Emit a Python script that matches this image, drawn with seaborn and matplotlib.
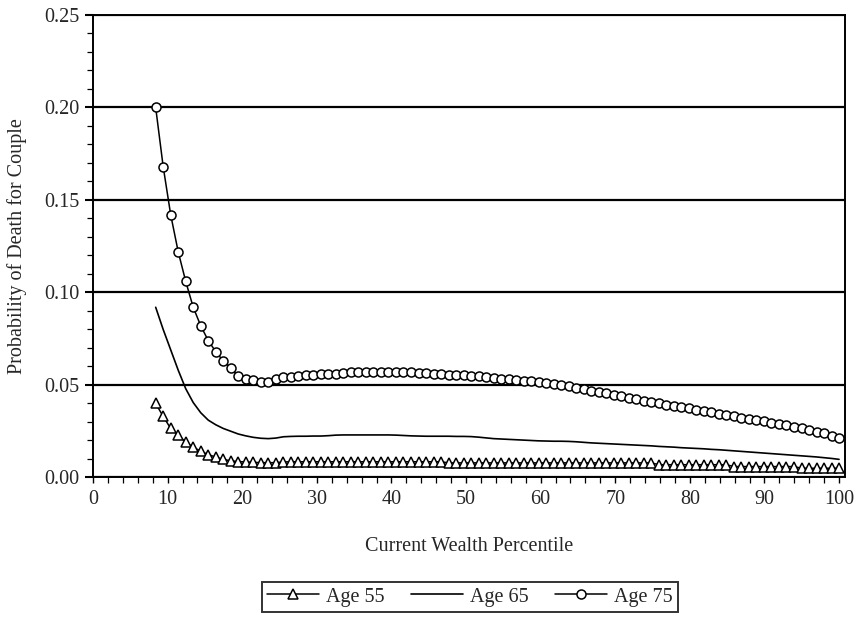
import numpy as np
import pandas as pd
import matplotlib
matplotlib.use("Agg")
import matplotlib.pyplot as plt
import seaborn as sns
from matplotlib.ticker import MultipleLocator, FormatStrFormatter

# ---------------- data ----------------
# wealth percentile grid (92 points from ~8.4 to 100)
percentile = np.linspace(8.4, 100.0, 92)

age55 = [0.0400, 0.0330, 0.0265, 0.0230, 0.0190, 0.0164, 0.0142, 0.0124, 0.0110, 0.0098,
         0.0090, 0.0086, 0.0084, 0.0082, 0.0080, 0.0080, 0.0080, 0.0084, 0.0085, 0.0085,
         0.0085, 0.0085, 0.0085, 0.0085, 0.0085, 0.0085, 0.0085, 0.0085, 0.0085, 0.0085,
         0.0085, 0.0085, 0.0085, 0.0085, 0.0085, 0.0085, 0.0085, 0.0085, 0.0085, 0.0079,
         0.0079, 0.0079, 0.0079, 0.0079, 0.0079, 0.0079, 0.0079, 0.0079, 0.0079, 0.0079,
         0.0079, 0.0079, 0.0079, 0.0079, 0.0079, 0.0079, 0.0079, 0.0079, 0.0079, 0.0079,
         0.0079, 0.0079, 0.0079, 0.0079, 0.0079, 0.0079, 0.0079, 0.0069, 0.0069, 0.0069,
         0.0069, 0.0069, 0.0069, 0.0069, 0.0069, 0.0069, 0.0069, 0.0059, 0.0059, 0.0059,
         0.0059, 0.0059, 0.0059, 0.0059, 0.0059, 0.0059, 0.0050, 0.0050, 0.0050, 0.0050,
         0.0050, 0.0050]

age65 = [0.0920, 0.0800, 0.0690, 0.0580, 0.0480, 0.0405, 0.0350, 0.0310, 0.0285, 0.0265,
         0.0250, 0.0235, 0.0225, 0.0217, 0.0212, 0.0210, 0.0213, 0.0220, 0.0222, 0.0223,
         0.0223, 0.0224, 0.0224, 0.0226, 0.0229, 0.0230, 0.0230, 0.0230, 0.0230, 0.0230,
         0.0230, 0.0230, 0.0229, 0.0227, 0.0225, 0.0224, 0.0223, 0.0223, 0.0223, 0.0223,
         0.0222, 0.0222, 0.0221, 0.0218, 0.0214, 0.0210, 0.0208, 0.0206, 0.0204, 0.0202,
         0.0200, 0.0198, 0.0197, 0.0196, 0.0196, 0.0195, 0.0193, 0.0190, 0.0187, 0.0185,
         0.0183, 0.0181, 0.0179, 0.0177, 0.0175, 0.0173, 0.0171, 0.0168, 0.0166, 0.0164,
         0.0161, 0.0159, 0.0157, 0.0155, 0.0152, 0.0150, 0.0147, 0.0144, 0.0141, 0.0138,
         0.0135, 0.0132, 0.0129, 0.0126, 0.0123, 0.0120, 0.0117, 0.0114, 0.0111, 0.0107,
         0.0103, 0.0098]

age75 = [0.2000, 0.1680, 0.1420, 0.1220, 0.1060, 0.0920, 0.0820, 0.0740, 0.0680, 0.0630,
         0.0590, 0.0550, 0.0530, 0.0525, 0.0515, 0.0515, 0.0533, 0.0545, 0.0545, 0.0548,
         0.0552, 0.0556, 0.0560, 0.0560, 0.0562, 0.0565, 0.0568, 0.0569, 0.0570, 0.0570,
         0.0570, 0.0570, 0.0570, 0.0570, 0.0569, 0.0567, 0.0565, 0.0562, 0.0560, 0.0556,
         0.0554, 0.0552, 0.0550, 0.0547, 0.0543, 0.0539, 0.0535, 0.0531, 0.0527, 0.0523,
         0.0519, 0.0515, 0.0510, 0.0505, 0.0500, 0.0494, 0.0486, 0.0478, 0.0470, 0.0463,
         0.0455, 0.0447, 0.0439, 0.0431, 0.0424, 0.0416, 0.0408, 0.0401, 0.0394, 0.0387,
         0.0380, 0.0373, 0.0366, 0.0359, 0.0352, 0.0345, 0.0338, 0.0331, 0.0324, 0.0317,
         0.0310, 0.0303, 0.0296, 0.0289, 0.0281, 0.0273, 0.0265, 0.0257, 0.0248, 0.0238,
         0.0226, 0.0215]

labels = ["Age 55", "Age 65", "Age 75"]
x_ticks = [0, 10, 20, 30, 40, 50, 60, 70, 80, 90, 100]
y_ticks = [0.00, 0.05, 0.10, 0.15, 0.20, 0.25]

# ---------------- style ----------------
sns.set_style("ticks")
plt.rcParams["font.family"] = ["Liberation Serif", "DejaVu Serif"]
plt.rcParams["font.size"] = 14.5

fig = plt.figure(figsize=(8.62, 6.24), dpi=100)
ax = fig.add_axes([0.1079, 0.2348, 0.9803 - 0.1079, 0.976 - 0.2348])

sns.lineplot(x=percentile, y=age55, ax=ax, color="black", lw=1.1,
             marker="^", markersize=6.8, markerfacecolor="white",
             markeredgecolor="black", markeredgewidth=1.1, label=labels[0])
sns.lineplot(x=percentile, y=age65, ax=ax, color="black", lw=1.2, label=labels[1])
sns.lineplot(x=percentile, y=age75, ax=ax, color="black", lw=1.1,
             marker="o", markersize=6.5, markerfacecolor="white",
             markeredgecolor="black", markeredgewidth=1.1, label=labels[2])

ax.set_xlim(0, 100.8)
ax.set_ylim(0, 0.25)
ax.set_xticks(x_ticks)
ax.set_yticks(y_ticks)
ax.xaxis.set_minor_locator(MultipleLocator(2))
ax.yaxis.set_minor_locator(MultipleLocator(0.01))
ax.yaxis.set_major_formatter(FormatStrFormatter("%.2f"))

ax.grid(axis="y", which="major", color="black", lw=1.6)
ax.set_axisbelow(True)
for s in ax.spines.values():
    s.set_visible(True)
    s.set_color("black")
    s.set_linewidth(1.4)

ax.tick_params(axis="y", which="major", direction="out", length=5.5, width=1.5,
               color="black", labelsize=14.5, pad=4)
ax.tick_params(axis="y", which="minor", direction="out", length=4, width=0.9, color="black")
ax.tick_params(axis="x", which="major", direction="out", length=4, width=1.0,
               color="black", labelsize=14.5, pad=5)
ax.tick_params(axis="x", which="minor", direction="out", length=4, width=0.9, color="black")

ax.set_xlabel("Current Wealth Percentile", fontsize=14.5)
ax.set_ylabel("Probability of Death for Couple", fontsize=14.5)
ax.xaxis.set_label_coords(0.5, -0.128)
ax.yaxis.set_label_coords(-0.088, 0.5)

handles, lbls = ax.get_legend_handles_labels()
ax.get_legend().remove()
leg = fig.legend(handles, lbls, loc="center", bbox_to_anchor=(0.545, 0.0433),
                 ncol=3, frameon=True, fancybox=False, fontsize=14.5,
                 handlelength=2.6, handletextpad=0.35, columnspacing=1.3,
                 borderpad=0.25, borderaxespad=0)
leg.get_frame().set_edgecolor("black")
leg.get_frame().set_linewidth(1.4)

fig.savefig("out.png", dpi=100, facecolor="white")
